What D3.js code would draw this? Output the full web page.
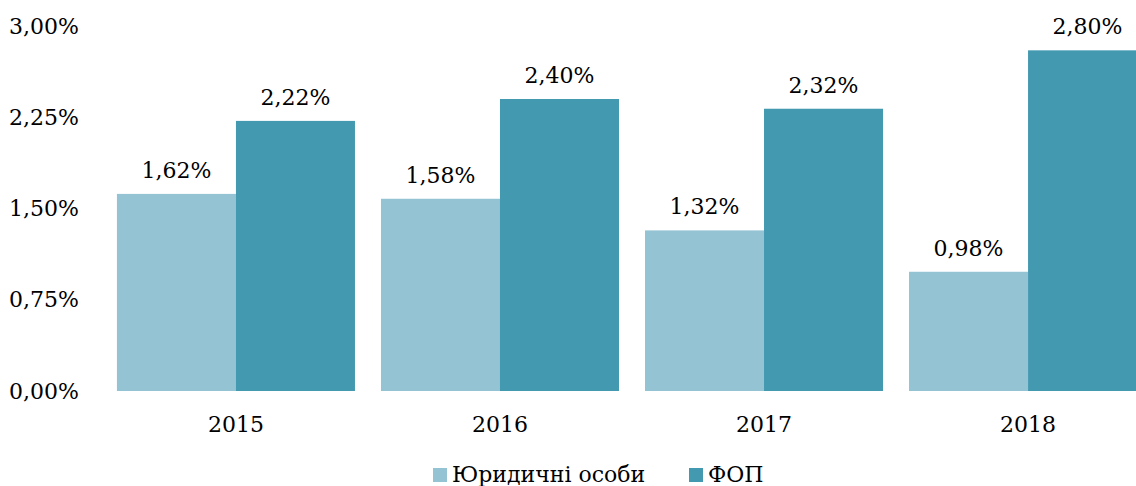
<!DOCTYPE html>
<html><head><meta charset="utf-8">
<script src="https://cdn.jsdelivr.net/npm/d3@7"></script>
<style>body{margin:0;background:#fff}svg{display:block}svg text{font-family:'DejaVu Serif','Noto Serif','Liberation Serif',serif !important;fill:#000}</style>
</head><body><svg id="c" width="1136" height="486"></svg>
<script>
const years = ["2015","2016","2017","2018"];
const seriesNames = ["Юридичні особи","ФОП"];
const legal = [1.62,1.58,1.32,0.98];
const fop = [2.22,2.40,2.32,2.80];
const yTicks = [0,0.75,1.5,2.25,3.0];
const colors = ["#94c3d4","#4399b0"];

const svg = d3.select("#c");
const fmt = v => v.toFixed(2).replace(".", ",") + "%";
const x = d3.scaleBand().domain(years).range([104,1160]).paddingInner(0.0985).paddingOuter(0.049);
const xs = d3.scaleBand().domain([0,1]).range([0,x.bandwidth()]);
const y = d3.scaleLinear().domain([0,3]).range([391,26]);
const series = [legal, fop];

const ya = svg.append("g").attr("transform","translate(79,0)").call(d3.axisLeft(y).tickValues(yTicks).tickSize(0).tickPadding(0).tickFormat(fmt));
ya.attr("font-family",null);
ya.select(".domain").remove();
ya.selectAll("text").attr("font-size",22).attr("fill","#000");

series.forEach((vals,si)=>{
  const g = svg.append("g");
  g.selectAll("rect").data(vals).join("rect")
    .attr("x",(d,i)=>x(years[i])+xs(si)).attr("width",xs.bandwidth())
    .attr("y",d=>y(d)).attr("height",d=>y(0)-y(d)).attr("fill",colors[si]);
  g.selectAll("text").data(vals).join("text")
    .attr("x",(d,i)=>x(years[i])+xs(si)+xs.bandwidth()/2)
    .attr("y",d=>y(d)-16).attr("text-anchor","middle").attr("font-size",22).text(fmt);
});

const xa = svg.append("g").attr("transform","translate(0,391)").call(d3.axisBottom(x).tickSize(0).tickPadding(0));
xa.attr("font-family",null);
xa.select(".domain").remove();
xa.selectAll("text").attr("font-size",22).attr("fill","#000").attr("dy",null).attr("y",41);

const lx = [433,689];
const lg = svg.append("g");
seriesNames.forEach((n,i)=>{
  lg.append("rect").attr("x",lx[i]).attr("y",468).attr("width",14).attr("height",14).attr("fill",colors[i]);
  lg.append("text").attr("x",lx[i]+19).attr("y",482).attr("font-size",22).text(n);
});
</script></body></html>
